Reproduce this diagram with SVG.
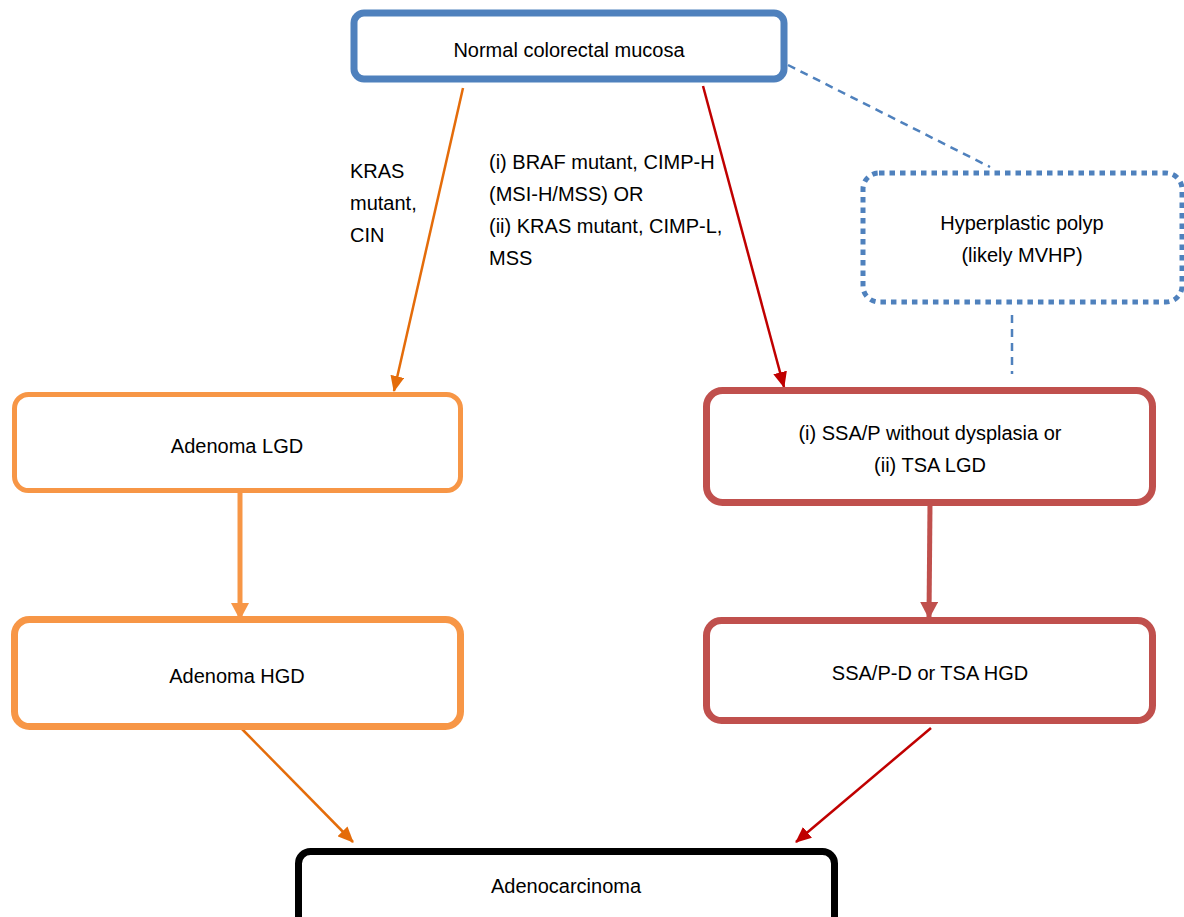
<svg xmlns="http://www.w3.org/2000/svg" width="1184" height="917" viewBox="0 0 1184 917">
<style>
text{font-family:"Liberation Sans",Arial,sans-serif;font-size:20px;fill:#000}
.c{text-anchor:middle}
.box{fill:#fff}
.blue{stroke:#4F81BD;stroke-width:7}
.or{stroke:#F79646}
.rd{stroke:#C0504D}
.blk{stroke:#000;stroke-width:7}
.thinO{stroke:#E46C0A;stroke-width:2.5;fill:none}
.thinR{stroke:#C00000;stroke-width:2.5;fill:none}
.dash{stroke:#4F81BD;stroke-width:2.5;stroke-dasharray:8 6;fill:none}
</style>
<defs>
<marker id="aO" markerUnits="userSpaceOnUse" markerWidth="16" markerHeight="14" refX="15" refY="7" orient="auto"><path d="M0,0 L16,7 L0,14 z" fill="#E46C0A"/></marker>
<marker id="aR" markerUnits="userSpaceOnUse" markerWidth="16" markerHeight="14" refX="15" refY="7" orient="auto"><path d="M0,0 L16,7 L0,14 z" fill="#C00000"/></marker>
<marker id="aOT" markerUnits="userSpaceOnUse" markerWidth="17" markerHeight="18" refX="16" refY="9" orient="auto"><path d="M0,0 L17,9 L0,18 z" fill="#F79646"/></marker>
<marker id="aRT" markerUnits="userSpaceOnUse" markerWidth="17" markerHeight="18" refX="16" refY="9" orient="auto"><path d="M0,0 L17,9 L0,18 z" fill="#C0504D"/></marker>
</defs>

<g id="connectors">
<line class="thinO" x1="463" y1="88" x2="394" y2="391" marker-end="url(#aO)"/>
<line class="thinR" x1="703" y1="86" x2="784" y2="387" marker-end="url(#aR)"/>
<line x1="240" y1="493" x2="240" y2="619" stroke="#F79646" stroke-width="5" marker-end="url(#aOT)"/>
<line x1="930" y1="504" x2="929" y2="618" stroke="#C0504D" stroke-width="5" marker-end="url(#aRT)"/>
<line class="thinO" x1="242" y1="729" x2="353" y2="842" marker-end="url(#aO)"/>
<line class="thinR" x1="931" y1="728" x2="796" y2="842" marker-end="url(#aR)"/>
<line class="dash" x1="788" y1="65" x2="990" y2="167"/>
<line class="dash" x1="1012" y1="315" x2="1012" y2="374"/>
</g>

<g id="label-kras">
<text x="350" y="178">KRAS</text>
<text x="350" y="210">mutant,</text>
<text x="350" y="242">CIN</text>
</g>
<g id="label-serrated">
<text x="489" y="169">(i) BRAF mutant, CIMP-H</text>
<text x="489" y="201">(MSI-H/MSS) OR</text>
<text x="489" y="233">(ii) KRAS mutant, CIMP-L,</text>
<text x="489" y="265">MSS</text>
</g>

<g id="node-normal">
<rect class="box blue" x="354" y="13" width="430" height="66" rx="10"/>
<text class="c" x="569" y="57">Normal colorectal mucosa</text>
</g>

<g id="node-hp">
<rect x="863" y="173" width="319" height="129" rx="16" fill="#fff" stroke="#4F81BD" stroke-width="5" stroke-dasharray="5.5 5"/>
<text class="c" x="1022" y="230">Hyperplastic polyp</text>
<text class="c" x="1022" y="262">(likely MVHP)</text>
</g>

<g id="node-lgd">
<rect class="box or" stroke-width="5" x="14.5" y="394.5" width="446" height="96" rx="14"/>
<text class="c" x="237" y="453">Adenoma LGD</text>
</g>

<g id="node-hgd">
<rect class="box or" stroke-width="7" x="14.5" y="619.5" width="446" height="107" rx="15"/>
<text class="c" x="237" y="683">Adenoma HGD</text>
</g>

<g id="node-ssa">
<rect class="box rd" stroke-width="7" x="706.5" y="390.5" width="446" height="112" rx="16"/>
<text class="c" x="930" y="440">(i) SSA/P without dysplasia or</text>
<text class="c" x="930" y="472">(ii) TSA LGD</text>
</g>

<g id="node-ssapd">
<rect class="box rd" stroke-width="7" x="706.5" y="620.5" width="446" height="100" rx="15"/>
<text class="c" x="930" y="680">SSA/P-D or TSA HGD</text>
</g>

<g id="node-adenocarcinoma">
<rect class="box blk" x="298.5" y="851.5" width="536" height="80" rx="12"/>
<text class="c" x="566" y="893">Adenocarcinoma</text>
</g>
</svg>
